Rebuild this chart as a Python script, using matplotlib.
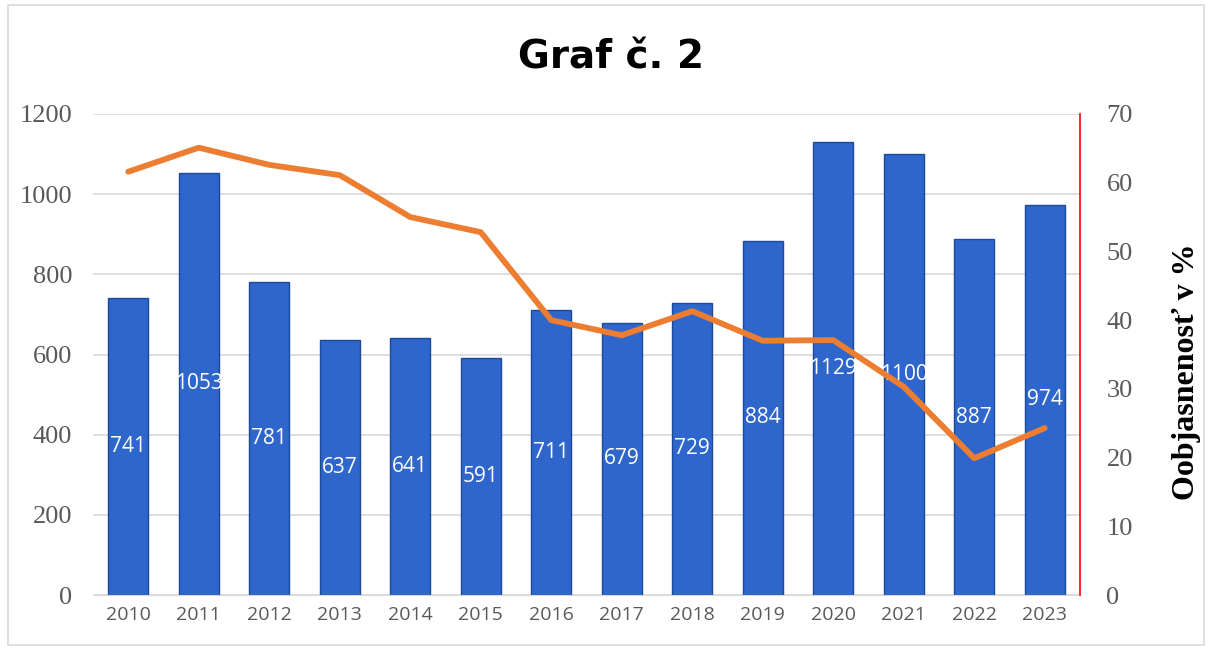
import matplotlib
matplotlib.use("Agg")
import matplotlib.pyplot as plt
from matplotlib.patches import Rectangle

# data
years = ['2010', '2011', '2012', '2013', '2014', '2015', '2016',
         '2017', '2018', '2019', '2020', '2021', '2022', '2023']
counts = [741, 1053, 781, 637, 641, 591, 711, 679, 729, 884, 1129, 1100, 887, 974]
clearance = [61.6, 65.1, 62.6, 61.1, 55.0, 52.8, 40.0,
             37.8, 41.3, 37.0, 37.1, 30.3, 19.9, 24.3]

fig = plt.figure(figsize=(12.12, 6.5), dpi=100)
ax = fig.add_axes([93 / 1212, 55 / 650, 987 / 1212, 481 / 650])
ax2 = ax.twinx()

x = list(range(len(years)))
bars = ax.bar(x, counts, width=0.57, color='#2E66CC', edgecolor='#1D4A97',
              linewidth=1.0, zorder=2)
for xi, v in zip(x, counts):
    ax.text(xi, v / 2, str(v), ha='center', va='center', color='white',
            fontsize=15, family='Open Sans', zorder=3)

ax.set_xlim(-0.5, len(years) - 0.5)
ax.set_ylim(0, 1200)
ax.set_yticks(range(0, 1201, 200))
ax.grid(axis='y', color='#D9D9D9', linewidth=1.2, zorder=0)
ax.set_axisbelow(True)
ax.set_xticks(x)
ax.set_xticklabels(years, family='Open Sans', fontsize=14, color='#595959')
for lab in ax.get_yticklabels():
    lab.set_family('Liberation Serif')
    lab.set_fontsize(19)
    lab.set_color('#595959')
ax.tick_params(axis='y', length=0, pad=15)
ax.tick_params(axis='x', length=0, pad=8)
for s in ['top', 'left', 'right']:
    ax.spines[s].set_visible(False)
ax.spines['bottom'].set_color('#D9D9D9')

ax2.plot(x, clearance, color='#ED7D31', linewidth=4.2, solid_capstyle='round',
         solid_joinstyle='round', zorder=4)
ax2.set_ylim(0, 70)
ax2.set_yticks(range(0, 71, 10))
for lab in ax2.get_yticklabels():
    lab.set_family('Liberation Serif')
    lab.set_fontsize(19)
    lab.set_color('#595959')
ax2.tick_params(axis='y', length=0, pad=19)
for s in ['top', 'left', 'bottom']:
    ax2.spines[s].set_visible(False)
ax2.spines['right'].set_color('red')
ax2.spines['right'].set_linewidth(1.2)
ax2.set_ylabel('Oobjasnenosť v %', family='Liberation Serif', fontsize=23,
               fontweight='bold')
ax2.yaxis.set_label_coords(1.093, 0.465)

fig.text(0.504, 0.912, 'Graf č. 2', ha='center', va='center', fontsize=28,
         fontweight='bold', family='DejaVu Sans')

fig.patches.append(Rectangle((8 / 1212, 5 / 650), 1196 / 1212, 640 / 650,
                             transform=fig.transFigure, fill=False,
                             edgecolor='#D9D9D9', linewidth=1.2))

fig.savefig('out.png', dpi=100)
